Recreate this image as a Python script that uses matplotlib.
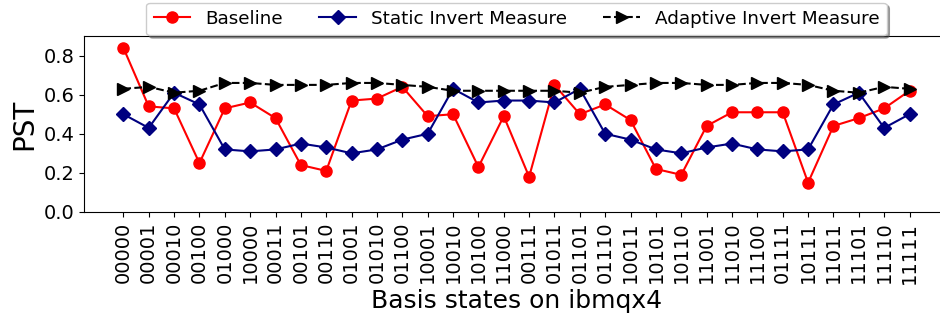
import numpy as np
import matplotlib
matplotlib.use("Agg")
import matplotlib.pyplot as plt

states = ['00000', '00001', '00010', '00100', '01000', '10000',
          '00011', '00101', '00110', '01001', '01010', '01100',
          '10001', '10010', '10100', '11000',
          '00111', '01011', '01101', '01110', '10011', '10101',
          '10110', '11001', '11010', '11100',
          '01111', '10111', '11011', '11101', '11110', '11111']

baseline = [0.84, 0.54, 0.53, 0.25, 0.53, 0.56, 0.48, 0.24, 0.21, 0.57, 0.58,
            0.64, 0.49, 0.50, 0.23, 0.49, 0.18, 0.65, 0.50, 0.55, 0.47, 0.22,
            0.19, 0.44, 0.51, 0.51, 0.51, 0.15, 0.44, 0.48, 0.53, 0.62]
static_im = [0.50, 0.43, 0.61, 0.55, 0.32, 0.31, 0.32, 0.35, 0.33, 0.30, 0.32,
             0.37, 0.40, 0.63, 0.56, 0.57, 0.57, 0.56, 0.63, 0.40, 0.37, 0.32,
             0.30, 0.33, 0.35, 0.32, 0.31, 0.32, 0.55, 0.61, 0.43, 0.50]
adaptive_im = [0.63, 0.64, 0.61, 0.62, 0.66, 0.66, 0.65, 0.65, 0.65, 0.66, 0.66,
               0.65, 0.64, 0.62, 0.62, 0.62, 0.62, 0.62, 0.61, 0.64, 0.65, 0.66,
               0.66, 0.65, 0.65, 0.66, 0.66, 0.65, 0.62, 0.61, 0.64, 0.63]

fig = plt.figure(figsize=(9.4, 3.23), dpi=100)
ax = fig.add_axes([0.0894, 0.3437, 0.920, 0.5448])

x = np.arange(len(states))
ax.plot(x, baseline, color='r', marker='o', markersize=8, label='Baseline')
ax.plot(x, static_im, color='navy', marker='D', markersize=7,
        label='Static Invert Measure')
ax.plot(x, adaptive_im, color='k', marker='>', markersize=8, linestyle='--',
        label='Adaptive Invert Measure')

ax.set_ylim(0, 0.9)
ax.set_yticks([0.0, 0.2, 0.4, 0.6, 0.8])
ax.set_xticks(x)
ax.set_xticklabels(states, rotation=90)
ax.tick_params(labelsize=14)
ax.set_ylabel('PST', fontsize=20)
ax.set_xlabel('Basis states on ibmqx4', fontsize=18)

ax.legend(loc='upper center', bbox_to_anchor=(0.5, 1.19), borderaxespad=0,
          ncol=3, fontsize=13.2, shadow=True)

fig.savefig('out.png', dpi=100)
